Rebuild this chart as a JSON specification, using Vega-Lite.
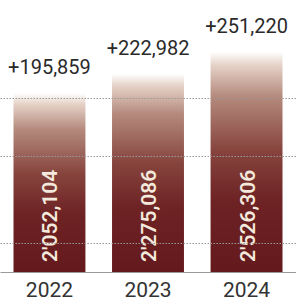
{
  "$schema": "https://vega.github.io/schema/vega-lite/v6.json",
  "width": 296,
  "height": 272,
  "autosize": {"type": "none"},
  "padding": {"left": 0, "top": 0, "right": 0, "bottom": 30},
  "background": "white",
  "config": {"view": {"stroke": null}},
  "data": {"values": [
    {"year": "2022", "total": 2052104, "totalLabel": "2'052,104", "change": "+195,859"},
    {"year": "2023", "total": 2275086, "totalLabel": "2'275,086", "change": "+222,982"},
    {"year": "2024", "total": 2526306, "totalLabel": "2'526,306", "change": "+251,220"}
  ]},
  "encoding": {
    "x": {"field": "year", "type": "nominal", "scale": {"paddingInner": 0.27, "paddingOuter": 0.137},
      "axis": {"title": null, "labelAngle": 0, "labelFontSize": 21, "labelFont": "Roboto", "labelColor": "#333333", "labelPadding": 7, "ticks": false, "domain": true, "domainColor": "#9a9a9a", "domainWidth": 1.2}},
    "y": {"field": "total", "type": "quantitative", "scale": {"domain": [0, 3123000], "nice": false},
      "axis": {"title": null, "labels": false, "ticks": false, "domain": false, "values": [333333, 1333333, 2000000], "gridDash": [1.5, 1.5], "gridColor": "#999999", "gridWidth": 1, "zindex": 1}}
  },
  "layer": [
    {"mark": {"type": "bar", "color": {"gradient": "linear", "x1": 0, "y1": 0, "x2": 0, "y2": 1,
      "stops": [
        {"offset": 0, "color": "#ffffff"},
        {"offset": 0.06, "color": "#e6d2c8"},
        {"offset": 0.2, "color": "#b58b7e"},
        {"offset": 0.45, "color": "#86443d"},
        {"offset": 0.68, "color": "#6d2224"},
        {"offset": 1, "color": "#641a1d"}
      ]}}},
    {"mark": {"type": "text", "baseline": "alphabetic", "dy": -19, "fontSize": 20, "font": "Roboto", "color": "#2a2a2a"},
      "encoding": {"text": {"field": "change"}}},
    {"mark": {"type": "text", "angle": 270, "align": "left", "baseline": "middle", "dx": 10, "dy": 2, "fontSize": 21, "font": "Roboto", "fontWeight": 600, "color": "#f3e9dc"},
      "encoding": {"y": {"datum": 0, "type": "quantitative"}, "text": {"field": "totalLabel"}}}
  ]
}
